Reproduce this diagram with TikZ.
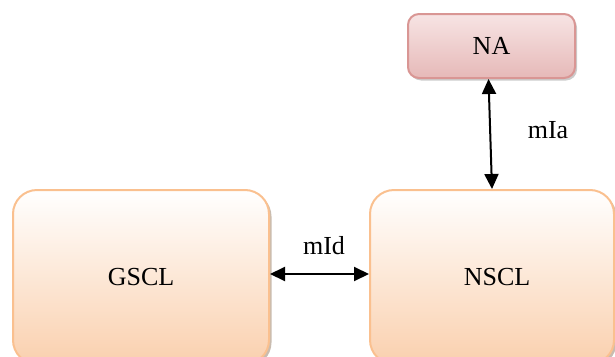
\documentclass[tikz,border=0pt]{standalone}
\usepackage{fontspec}
\setmainfont{Liberation Serif}
\usetikzlibrary{arrows.meta,shadows}
\definecolor{obord}{HTML}{FAC08F}
\definecolor{obot}{HTML}{FAD0AE}
\definecolor{pbord}{HTML}{D99694}
\definecolor{ptop}{HTML}{F7E4E4}
\definecolor{pbot}{HTML}{E6B9B8}
\tikzset{
  obox/.style={draw=obord, line width=2pt, rounded corners=24pt, top color=white, bottom color=obot,
    drop shadow={shadow xshift=2.5pt, shadow yshift=-2.5pt, fill=black!45!brown!60, opacity=0.6},
    font=\fontsize{26}{30}\selectfont, inner sep=0pt},
  pbox/.style={draw=pbord, line width=2pt, rounded corners=11pt, top color=ptop, bottom color=pbot,
    drop shadow={shadow xshift=2pt, shadow yshift=-2.5pt, fill=black!40, opacity=0.5},
    font=\fontsize{26}{30}\selectfont, inner sep=0pt},
  lbl/.style={font=\fontsize{26}{30}\selectfont, inner sep=0pt},
  arr/.style={{Triangle[length=15pt,width=14pt]}-{Triangle[length=15pt,width=14pt]}, line width=2pt, black}
}
\begin{document}
\begin{tikzpicture}[x=1pt,y=-1pt]
\useasboundingbox (0,0) rectangle (615,356);
\clip (0,0) rectangle (615,356);
\node[obox, minimum width=256pt, minimum height=174pt] (gscl) at (141,277) {GSCL};
\node[obox, minimum width=244pt, minimum height=174pt] (nscl) at (492,277) {\hspace*{10pt}NSCL};
\node[pbox, minimum width=167pt, minimum height=64pt] (na) at (491.5,46) {NA};
\draw[arr] ([xshift=-3pt]na.south) -- (nscl.north);
\draw[arr] ([yshift=3pt]gscl.east) -- ([yshift=3pt]nscl.west);
\node[lbl] (mia) at (548,130) {mIa};
\node[lbl] (mid) at (324,246) {mId};
\end{tikzpicture}
\end{document}
